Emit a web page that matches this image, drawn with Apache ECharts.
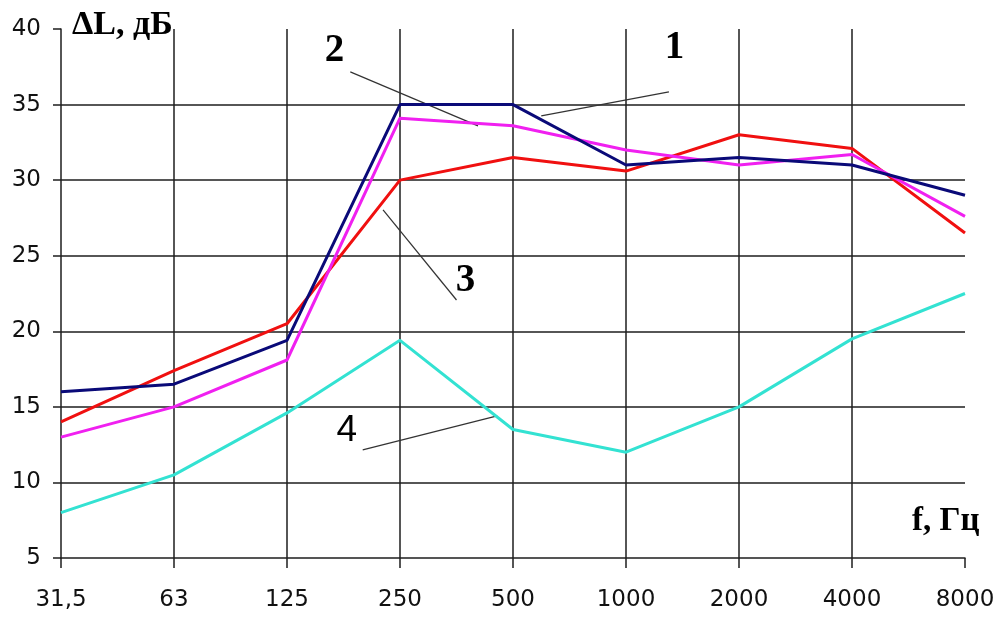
<!DOCTYPE html>
<html>
<head>
<meta charset="utf-8">
<script src="https://cdn.jsdelivr.net/npm/echarts@6/dist/echarts.min.js"></script>
<style>html,body{margin:0;padding:0;background:#fff}#c{width:998px;height:619px}</style>
</head>
<body>
<div id="c"></div>
<script>
const categories = ['31,5', '63', '125', '250', '500', '1000', '2000', '4000', '8000'];
const yTicks = [5, 10, 15, 20, 25, 30, 35, 40];
const series1 = [16.0, 16.5, 19.4, 35.0, 35.0, 31.0, 31.5, 31.0, 29.0];
const series2 = [13.0, 15.0, 18.1, 34.1, 33.6, 32.0, 31.0, 31.7, 27.6];
const series3 = [14.0, 17.4, 20.5, 30.0, 31.5, 30.6, 33.0, 32.1, 26.5];
const series4 = [8.0, 10.5, 14.6, 19.4, 13.5, 12.0, 15.0, 19.5, 22.5];
const annotationTexts = ['1', '2', '3', '4'];
const annotationLabelPos = [[5.43, 38.75], [2.42, 38.55], [3.58, 23.35], [2.53, 13.4]];
const annotationLeaders = [
  [[4.25, 34.25], [5.38, 35.84]],
  [[2.56, 37.16], [3.69, 33.59]],
  [[2.85, 28.03], [3.50, 22.07]],
  [[2.67, 12.15], [3.86, 14.40]]
];
const yAxisTitle = 'ΔL, дБ';
const xAxisTitle = 'f, Гц';

const chart = echarts.init(document.getElementById('c'), null, {renderer: 'canvas'});
const gridColor = '#1e1e1e';
const dataSeries = [
  {d: series4, c: '#33E2D2'},
  {d: series3, c: '#F01010'},
  {d: series2, c: '#F020F0'},
  {d: series1, c: '#0A0A78'}
].map(s => ({
  type: 'line', data: s.d, xAxisIndex: 0, symbol: 'none', smooth: false,
  lineStyle: {color: s.c, width: 3}, silent: true, animation: false
}));
const leaderSeries = annotationLeaders.map(l => ({
  type: 'line', data: l, xAxisIndex: 1, symbol: 'none',
  lineStyle: {color: '#333', width: 1.2}, silent: true, animation: false, z: 1
}));
const labelSeries = {
  type: 'scatter', xAxisIndex: 1, symbolSize: 0, animation: false, silent: true,
  itemStyle: {opacity: 1},
  data: annotationLabelPos.map((p, i) => ({value: p, name: annotationTexts[i],
    label: i === 3
      ? {fontFamily: 'Liberation Sans', fontSize: 37, fontWeight: 'normal'}
      : {fontFamily: 'Liberation Serif', fontSize: 39, fontWeight: 'bold'}})),
  label: {show: true, position: 'inside', formatter: p => p.name, color: '#000', opacity: 1}
};

chart.setOption({
  animation: false,
  backgroundColor: '#fff',
  grid: {left: 61, right: 33, top: 29, bottom: 61, containLabel: false},
  xAxis: [{
    type: 'category', data: categories, boundaryGap: false,
    axisLine: {lineStyle: {color: gridColor, width: 1.5}},
    axisTick: {show: true, length: 10, lineStyle: {color: gridColor, width: 1.5}},
    axisLabel: {color: '#111', fontFamily: 'DejaVu Sans', fontSize: 23, margin: 31},
    splitLine: {show: true, showMinLine: false, showMaxLine: false, lineStyle: {color: gridColor, width: 1.5}}
  }, {
    type: 'value', min: 0, max: 8, show: false
  }],
  yAxis: {
    type: 'value', min: yTicks[0], max: yTicks[yTicks.length - 1], interval: 5,
    axisLine: {show: true, lineStyle: {color: gridColor, width: 1.5}},
    axisTick: {show: true, length: 8, lineStyle: {color: gridColor, width: 1.5}},
    axisLabel: {color: '#111', fontFamily: 'DejaVu Sans', fontSize: 23, margin: 20},
    splitLine: {show: true, showMinLine: false, showMaxLine: false, lineStyle: {color: gridColor, width: 1.5}}
  },
  graphic: [
    {type: 'text', left: 72, top: 8, style: {text: yAxisTitle, font: 'bold 34px "Liberation Serif"', fill: '#000'}},
    {type: 'text', left: 912, top: 505, style: {text: xAxisTitle, font: 'bold 33px "Liberation Serif"', fill: '#000'}}
  ],
  series: [...leaderSeries, ...dataSeries, labelSeries]
});
</script>
</body>
</html>
